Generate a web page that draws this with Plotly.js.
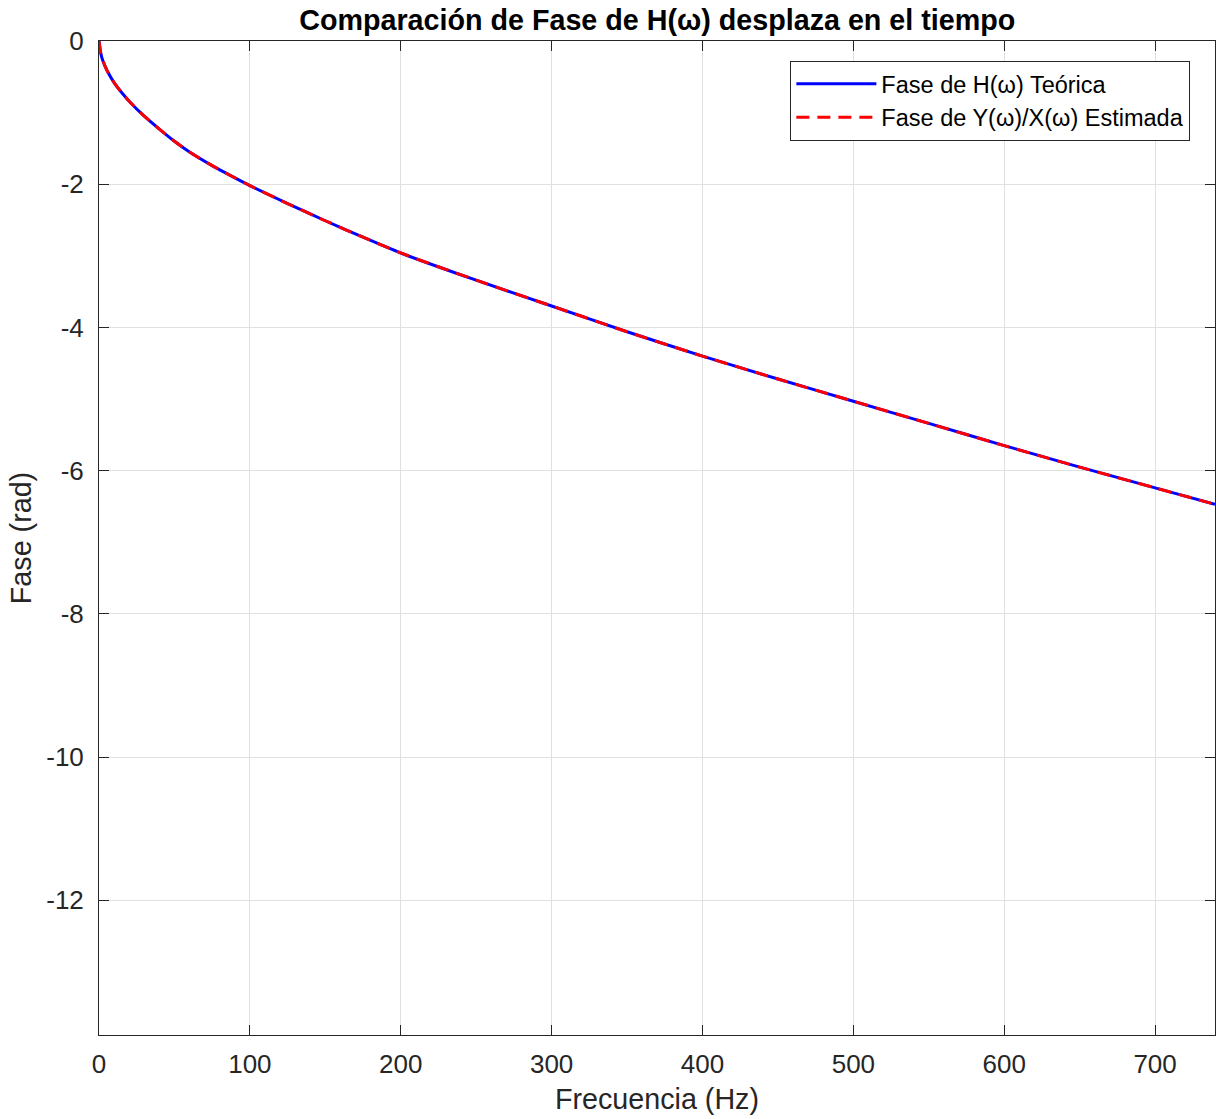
<!DOCTYPE html>
<html>
<head>
<meta charset="utf-8">
<script src="https://cdn.plot.ly/plotly-3.0.1.min.js"></script>
<style>html,body{margin:0;padding:0;background:#fff;}#chart{width:1216px;height:1119px;}</style>
</head>
<body>
<div id="chart"></div>
<script>
// Frequency samples (Hz)
const freqHz = [0, 1, 2, 4, 6, 10, 15, 20, 30, 40, 50, 60, 75, 90, 100, 125, 150, 175, 200, 250, 300, 350, 400, 450, 500, 550, 600, 650, 700, 739.7];
// Theoretical phase of H(w) (rad)
const phaseTeorica = [0, -0.15, -0.24, -0.35, -0.44, -0.58, -0.72, -0.84, -1.05, -1.23, -1.40, -1.55, -1.74, -1.91, -2.02, -2.27, -2.51, -2.74, -2.96, -3.34, -3.70, -4.06, -4.40, -4.72, -5.03, -5.34, -5.65, -5.95, -6.24, -6.47];
// Estimated phase of Y(w)/X(w) (rad)
const phaseEstimada = [0, -0.15, -0.24, -0.35, -0.44, -0.58, -0.72, -0.84, -1.05, -1.23, -1.40, -1.55, -1.74, -1.91, -2.02, -2.27, -2.51, -2.74, -2.96, -3.34, -3.70, -4.06, -4.40, -4.72, -5.03, -5.34, -5.65, -5.95, -6.24, -6.47];
const xTicks = [0, 100, 200, 300, 400, 500, 600, 700];
const yTicks = [0, -2, -4, -6, -8, -10, -12];

const font = "'Liberation Sans', Arial, Helvetica, sans-serif";
const textColor = '#262626';

const traces = [
  {x: freqHz, y: phaseTeorica, type: 'scatter', mode: 'lines', name: 'Fase de H(ω) Teórica',
   line: {color: '#0000ff', width: 3, shape: 'spline', smoothing: 0.6}},
  {x: freqHz, y: phaseEstimada, type: 'scatter', mode: 'lines', name: 'Fase de Y(ω)/X(ω) Estimada',
   line: {color: '#ff0000', width: 3, dash: '13px,8px', shape: 'spline', smoothing: 0.6}}
];

const layout = {
  width: 1216, height: 1119,
  margin: {l: 99, r: 1, t: 41, b: 84},
  paper_bgcolor: '#ffffff', plot_bgcolor: '#ffffff',
  font: {family: font, color: textColor, size: 26},
  title: {text: '<b>Comparación de Fase de H(ω) desplaza en el tiempo</b>',
          font: {family: font, size: 28.7, color: '#000000'},
          x: 0.5405, xanchor: 'center', yref: 'container', y: 1 - 20/1119, yanchor: 'middle'},
  xaxis: {
    range: [0, 739.7], tickvals: xTicks, ticktext: xTicks.map(String),
    showgrid: true, gridcolor: '#e0e0e0', gridwidth: 1, zeroline: false,
    showline: true, linecolor: textColor, linewidth: 1, mirror: 'ticks',
    ticks: 'inside', ticklen: 10, tickcolor: textColor, tickwidth: 1,
    tickfont: {size: 26, color: textColor}, ticklabelstandoff: 6,
    title: {text: 'Frecuencia (Hz)', font: {size: 28.7, color: textColor}, standoff: 10}
  },
  yaxis: {
    range: [-13.88, 0], tickvals: yTicks, ticktext: yTicks.map(String),
    showgrid: true, gridcolor: '#e0e0e0', gridwidth: 1, zeroline: false,
    showline: true, linecolor: textColor, linewidth: 1, mirror: 'ticks',
    ticks: 'inside', ticklen: 10, tickcolor: textColor, tickwidth: 1,
    tickfont: {size: 26, color: textColor}, ticklabelstandoff: 9,
    title: {text: 'Fase (rad)', font: {size: 28.7, color: textColor}, standoff: 6}
  },
  legend: {
    x: 0.6195, y: 0.98, xanchor: 'left', yanchor: 'top',
    bgcolor: '#ffffff', bordercolor: '#262626', borderwidth: 1,
    font: {size: 23.5, color: '#000000'}, itemwidth: 80, tracegroupgap: 0
  },
  showlegend: true
};

Plotly.newPlot('chart', traces, layout, {displayModeBar: false, staticPlot: true});
</script>
</body>
</html>
